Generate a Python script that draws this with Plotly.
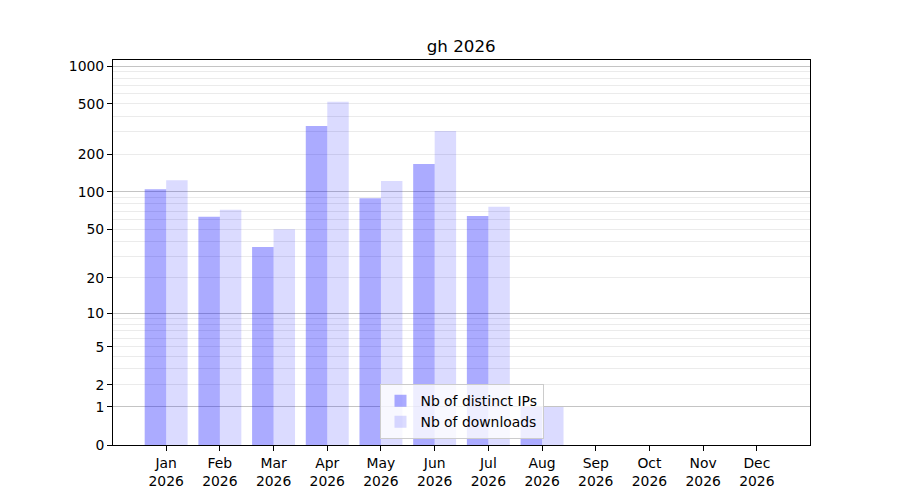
import math
import plotly.graph_objects as go

# ---- data ----
months = ["Jan", "Feb", "Mar", "Apr", "May", "Jun", "Jul", "Aug", "Sep", "Oct", "Nov", "Dec"]
year = "2026"
distinct_ips = [105, 63, 36, 335, 89, 167, 64, 1, 0, 0, 0, 0]
downloads = [124, 72, 50, 520, 122, 305, 76, 1, 0, 0, 0, 0]
y_tick_values = [0, 1, 2, 5, 10, 20, 50, 100, 200, 500, 1000]
major_grid_values = [1, 10, 100, 1000]
minor_grid_values = [2, 3, 4, 5, 6, 7, 8, 9,
                     20, 30, 40, 50, 60, 70, 80, 90,
                     200, 300, 400, 500, 600, 700, 800, 900]
title_text = "gh 2026"
series_names = ["Nb of distinct IPs", "Nb of downloads"]


def tr(v):
    """log10(1+x) scale used by the reference chart."""
    return math.log10(1 + v)


cats = [f"{m}<br>{year}" for m in months]
font_family = "DejaVu Sans"

fig = go.Figure()
fig.add_trace(go.Bar(
    x=cats, y=[tr(v) for v in distinct_ips], name=series_names[0],
    marker=dict(color="rgba(0,0,255,0.33)", line=dict(width=0)),
))
fig.add_trace(go.Bar(
    x=cats, y=[tr(v) for v in downloads], name=series_names[1],
    marker=dict(color="rgba(0,0,255,0.14)", line=dict(width=0)),
))
# invisible helper trace so the overlay grid axis is drawn
fig.add_trace(go.Scatter(x=[cats[0]], y=[0], yaxis="y2", mode="markers",
                         marker=dict(opacity=0), showlegend=False, hoverinfo="skip"))

yrange = [0, 3.048]

fig.update_layout(
    width=900, height=500,
    margin=dict(l=113, r=90, t=60, b=55),
    paper_bgcolor="white", plot_bgcolor="white",
    font=dict(family=font_family, size=13.9, color="black"),
    title=dict(text=title_text, x=0.5125, xanchor="center", yref="container",
               y=1 - 46 / 500, yanchor="middle",
               font=dict(family=font_family, size=16.7, color="black")),
    barmode="group", bargap=0.2, bargroupgap=0,
    showlegend=True,
    legend=dict(x=0.5, xanchor="center", y=0.015, yanchor="bottom",
                bgcolor="rgba(255,255,255,0.8)", bordercolor="#cccccc", borderwidth=1,
                font=dict(family=font_family, size=13.9, color="black"),
                tracegroupgap=0),
    xaxis=dict(
        type="category", categoryorder="array", categoryarray=cats,
        range=[-0.99, 11.99],
        showline=True, mirror=True, linecolor="black", linewidth=1,
        ticks="outside", ticklen=5, tickcolor="black", tickwidth=1,
        showgrid=False, zeroline=False,
        tickfont=dict(family=font_family, size=13.9, color="black"),
    ),
    yaxis=dict(
        range=yrange, autorange=False,
        tickmode="array", tickvals=[tr(v) for v in y_tick_values],
        ticktext=[str(v) for v in y_tick_values],
        showline=True, mirror=True, linecolor="black", linewidth=1,
        ticks="outside", ticklen=5, tickcolor="black", tickwidth=1,
        showgrid=False, zeroline=False,
        tickfont=dict(family=font_family, size=13.9, color="black"),
        minor=dict(tickmode="array", tickvals=[tr(v) for v in minor_grid_values],
                   showgrid=True, gridcolor="#ebebeb", gridwidth=1, ticks=""),
    ),
    yaxis2=dict(
        overlaying="y", side="left", range=yrange, autorange=False,
        tickmode="array", tickvals=[tr(v) for v in major_grid_values],
        showticklabels=False, ticks="", showline=False,
        showgrid=True, gridcolor="#c4c4c4", gridwidth=1, zeroline=False,
    ),
)

fig.write_html("out.html", config={"displayModeBar": False},
               post_script="document.body.style.margin='0';")
